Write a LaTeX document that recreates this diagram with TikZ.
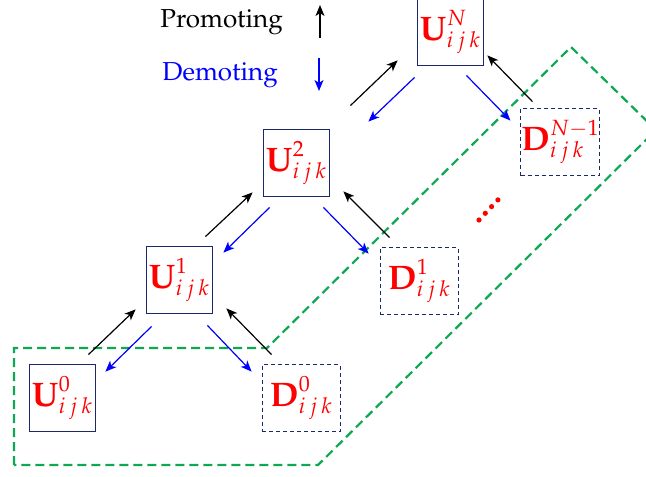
\documentclass[tikz,border=0pt]{standalone}
\usepackage[T1]{fontenc}
\usepackage{mathpazo}
\usetikzlibrary{arrows.meta}

\newcommand{\lvlbox}[2]{%
  $\mbox{\fontsize{34}{36}\selectfont$\mathbf{#1}$}^{#2}_{i\:j\:k}$}

\begin{document}
\begin{tikzpicture}[x=1pt, y=-1pt,
  ubox/.style={draw=boxclr, line width=0.8pt, minimum width=66pt,
               minimum height=67pt, inner sep=0pt, text=red,
               font=\fontsize{29}{31}\selectfont},
  dbox/.style={ubox, dash pattern=on 4pt off 3pt, minimum width=78pt},
  promote/.style={-{Stealth[length=11pt,width=9pt,inset=3pt]},
                  line width=1.2pt, draw=black},
  demote/.style={promote, draw=blue},
  zone/.style={draw=zoneclr, line width=2.2pt, dash pattern=on 9pt off 5pt}]

\definecolor{boxclr}{rgb}{0.10,0.16,0.42}
\definecolor{zoneclr}{rgb}{0.05,0.66,0.32}

\useasboundingbox (0,0) rectangle (646,477);
\clip (0,0) rectangle (646,477);

% ---- (1) green dashed region -----------------------------------
\draw[zone] (14,465) -- (14,348) -- (267,348) -- (571,47)
         -- (656,130) -- (318,465) -- cycle;

% ---- (2) upper-level boxes (solid) and lower-level boxes (dashed)
\node[ubox] (U0) at (62,398)  {\lvlbox{U}{0}};
\node[ubox] (U1) at (179,280) {\lvlbox{U}{1}};
\node[ubox] (U2) at (296,163) {\lvlbox{U}{2}};
\node[ubox] (UN) at (450,32)  {\lvlbox{U}{N}};

\node[dbox] (D0) at (301,398) {\lvlbox{D}{0}};
\node[dbox] (D1) at (419,281) {\lvlbox{D}{1}};
\node[dbox] (DN) at (560,142) {\lvlbox{D}{N{-}1}};

% ---- (3) promoting / demoting arrows ---------------------------
\draw[promote] ([shift={(-7,-9.5)}]U0.north east) -- ([shift={(-10,-4.5)}]U1.south west);
\draw[demote]  ([shift={(6,12.5)}]U1.south west)  -- ([shift={(10,7.5)}]U0.north east);
\draw[promote] ([shift={(-7,-9.5)}]U1.north east) -- ([shift={(-10,-4.5)}]U2.south west);
\draw[demote]  ([shift={(7,10.5)}]U2.south west)  -- ([shift={(11,6.5)}]U1.north east);
\draw[promote] ([shift={(21,-23.5)}]U2.north east) -- ([shift={(-19,-5.5)}]UN.south west);
\draw[demote]  ([shift={(-2,11.5)}]UN.south west)  -- ([shift={(39,-7.5)}]U2.north east);

\draw[promote] ([shift={(10,-9.5)}]D0.north west) -- ([shift={(14,-5.5)}]U1.south east);
\draw[demote]  ([shift={(-5,11.5)}]U1.south east) -- ([shift={(-10,7.5)}]D0.north west);
\draw[promote] ([shift={(10,-9.5)}]D1.north west) -- ([shift={(14,-5.5)}]U2.south east);
\draw[demote]  ([shift={(-6,10.5)}]U2.south east) -- ([shift={(-11,6.5)}]D1.north west);
\draw[promote] ([shift={(12,-6.5)}]DN.north west) -- ([shift={(4,-10.5)}]UN.south east);
\draw[demote]  ([shift={(-17,9.5)}]UN.south east) -- ([shift={(-10,12.5)}]DN.north west);

% ---- (4) dots between the levels -------------------------------
\foreach \i in {0,...,3}{%
  \fill[red] ({479+6.3*\i},{220-6.7*\i}) circle (2.6);
}

% ---- (5) legend ------------------------------------------------
\node[anchor=base east, inner sep=0pt, font=\fontsize{26}{28}\selectfont]
      (promlbl) at (283,27) {Promoting};
\node[anchor=base east, inner sep=0pt, text=blue, font=\fontsize{26}{28}\selectfont]
      (demlbl) at (278,80) {Demoting};
\coordinate (promfoot) at (320,38);
\coordinate (promhead) at (320,5);
\coordinate (demfoot)  at (319,58);
\coordinate (demhead)  at (319,91);
\draw[promote] (promfoot) -- (promhead);
\draw[demote]  (demfoot) -- (demhead);

\end{tikzpicture}
\end{document}
